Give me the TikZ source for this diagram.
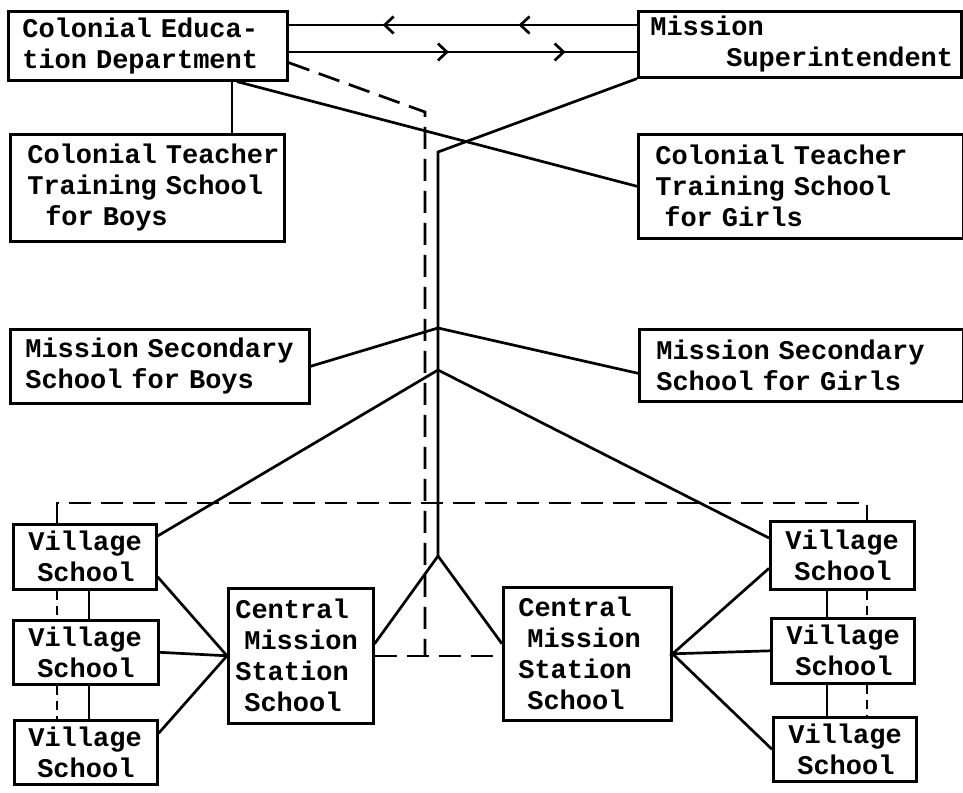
\documentclass[tikz,border=0pt]{standalone}
\usepackage{fontspec}
\setmainfont{Liberation Mono}
\usetikzlibrary{arrows.meta,decorations.markings}
\tikzset{
  box/.style={draw, line width=2.6pt, anchor=north west, inner xsep=15pt, inner ysep=0pt,
    align=left, font=\bfseries\fontsize{27}{31}\selectfont},
  conn/.style={line width=2.7pt},
  dashln/.style={line width=2.7pt, dash pattern=on 22pt off 10pt},
  shortdash/.style={line width=2.7pt, dash pattern=on 9pt off 6pt},
  vtip/.tip={Straight Barb[length=9pt,width=17pt]}
}
\begin{document}
\begin{tikzpicture}[x=1pt,y=-1pt]
\fill[white] (0,0) rectangle (963,792);
\useasboundingbox (0,0) rectangle (963,792);

% boxes
\node[box, inner xsep=14pt, text width=251pt, minimum height=69pt] (ced) at (7,10) {\mbox{Colonial Educa-}\\\mbox{tion Department}};
\node[box, inner xsep=12pt, text width=299pt, minimum height=66pt] (ms) at (637,10) {Mission\\\hspace*{76pt}\mbox{Superintendent}};
\node[box, inner xsep=17pt, text width=240pt, minimum height=107pt] (cttb) at (9,133) {\mbox{Colonial Teacher}\\\mbox{Training School}\\\mbox{~~for Boys}};
\node[box, inner xsep=17pt, text width=291pt, minimum height=104pt] (cttg) at (637,133) {\mbox{Colonial Teacher}\\\mbox{Training School}\\\mbox{~for Girls}};
\node[box, inner xsep=15pt, text width=269pt, minimum height=74pt] (msb) at (9,328) {\mbox{Mission Secondary}\\\mbox{School for Boys}};
\node[box, inner xsep=17pt, text width=290pt, minimum height=72pt] (msg) at (638,328) {\mbox{Mission Secondary}\\\mbox{School for Girls}};

\node[box, text width=113pt, minimum height=65pt] (vs1l) at (12,523) {Village\\\mbox{~School}};
\node[box, text width=115pt, minimum height=64pt] (vs2l) at (12,619) {Village\\\mbox{~School}};
\node[box, inner xsep=14pt, text width=115pt, minimum height=64pt] (vs3l) at (13,719) {Village\\\mbox{~School}};
\node[box, inner xsep=7pt, text width=131pt, minimum height=135pt] (cms1) at (227,587) {Central\\\mbox{~Mission}\\Station\\\mbox{~School}};
\node[box, inner xsep=15pt, text width=138pt, minimum height=133pt] (cms2) at (502,586) {Central\\\mbox{~Mission}\\Station\\\mbox{~School}};
\node[box, text width=114pt, minimum height=68pt] (vs1r) at (769,520) {Village\\\mbox{~School}};
\node[box, text width=113pt, minimum height=65pt] (vs2r) at (770,617) {Village\\\mbox{~School}};
\node[box, text width=113pt, minimum height=64pt] (vs3r) at (772,716) {Village\\\mbox{~School}};

% junction coordinates
\coordinate (j0) at (438,152);
\coordinate (j1) at (438,328);
\coordinate (j2) at (438,370);
\coordinate (j3) at (438,556);
\coordinate (d1) at (425,112);
\coordinate (d2) at (425,656);
\coordinate (tl) at (57,503);
\coordinate (tr) at (867,503);
\coordinate (la) at (57,0);
\coordinate (lb) at (89,0);
\coordinate (rb) at (827,0);
\coordinate (ra) at (867,0);
\coordinate (c1) at ([xshift=225pt]ced.south west);
\coordinate (c2) at ([xshift=230pt]ced.south west);

% two-way arrows between departments
\draw[conn, postaction={decorate}, decoration={markings,
    mark=at position 0.34 with {\arrow{vtip}},
    mark=at position 0.73 with {\arrow{vtip}}}]
  ([yshift=-15pt]ms.north west) -- ([yshift=-15pt]ced.north east);
\draw[conn, postaction={decorate}, decoration={markings,
    mark=at position 0.46 with {\arrow{vtip}},
    mark=at position 0.795 with {\arrow{vtip}}}]
  ([yshift=-42pt]ced.north east) -- ([yshift=-42pt]ms.north west);

% colonial lines
\draw[conn] (c1) -- (c1 |- cttb.north);
\draw[conn] (c2) -- (cttg.west);
\draw[dashln] ([yshift=19pt]ced.south east) -- (d1) -- (d2);
\draw[dashln] (cms1.east |- d2) -- (cms2.west |- d2);
\draw[dashln] (vs1l.north -| tl) -- (tl) -- (tr) -- (vs1r.north -| tr);

% mission lines
\draw[conn] (ms.south west) -- (j0) -- (j3);
\draw[conn] (msb.east) -- (j1) -- ([yshift=-8pt]msg.west);
\draw[conn] ([yshift=-13pt]vs1l.north east) -- (j2) -- ([yshift=-18pt]vs1r.north west);
\draw[conn] ([yshift=12pt]cms1.east) -- (j3) -- ([yshift=10pt]cms2.west);

% fans to village schools
\draw[conn] ([yshift=-20pt]vs1l.east) -- (cms1.west) -- (vs2l.east);
\draw[conn] ([yshift=19pt]vs3l.east) -- (cms1.west);
\draw[conn] ([yshift=-13pt]vs1r.west) -- (cms2.east) -- (vs2r.west);
\draw[conn] (vs3r.west) -- (cms2.east);

% links between village schools
\draw[shortdash] (vs1l.south -| la) -- (vs2l.north -| la);
\draw[conn] (vs1l.south -| lb) -- (vs2l.north -| lb);
\draw[shortdash] (vs2l.south -| la) -- (vs3l.north -| la);
\draw[conn] (vs2l.south -| lb) -- (vs3l.north -| lb);
\draw[conn] (vs1r.south -| rb) -- (vs2r.north -| rb);
\draw[shortdash] (vs1r.south -| ra) -- (vs2r.north -| ra);
\draw[conn] (vs2r.south -| rb) -- (vs3r.north -| rb);
\draw[shortdash] (vs2r.south -| ra) -- (vs3r.north -| ra);
\end{tikzpicture}
\end{document}
